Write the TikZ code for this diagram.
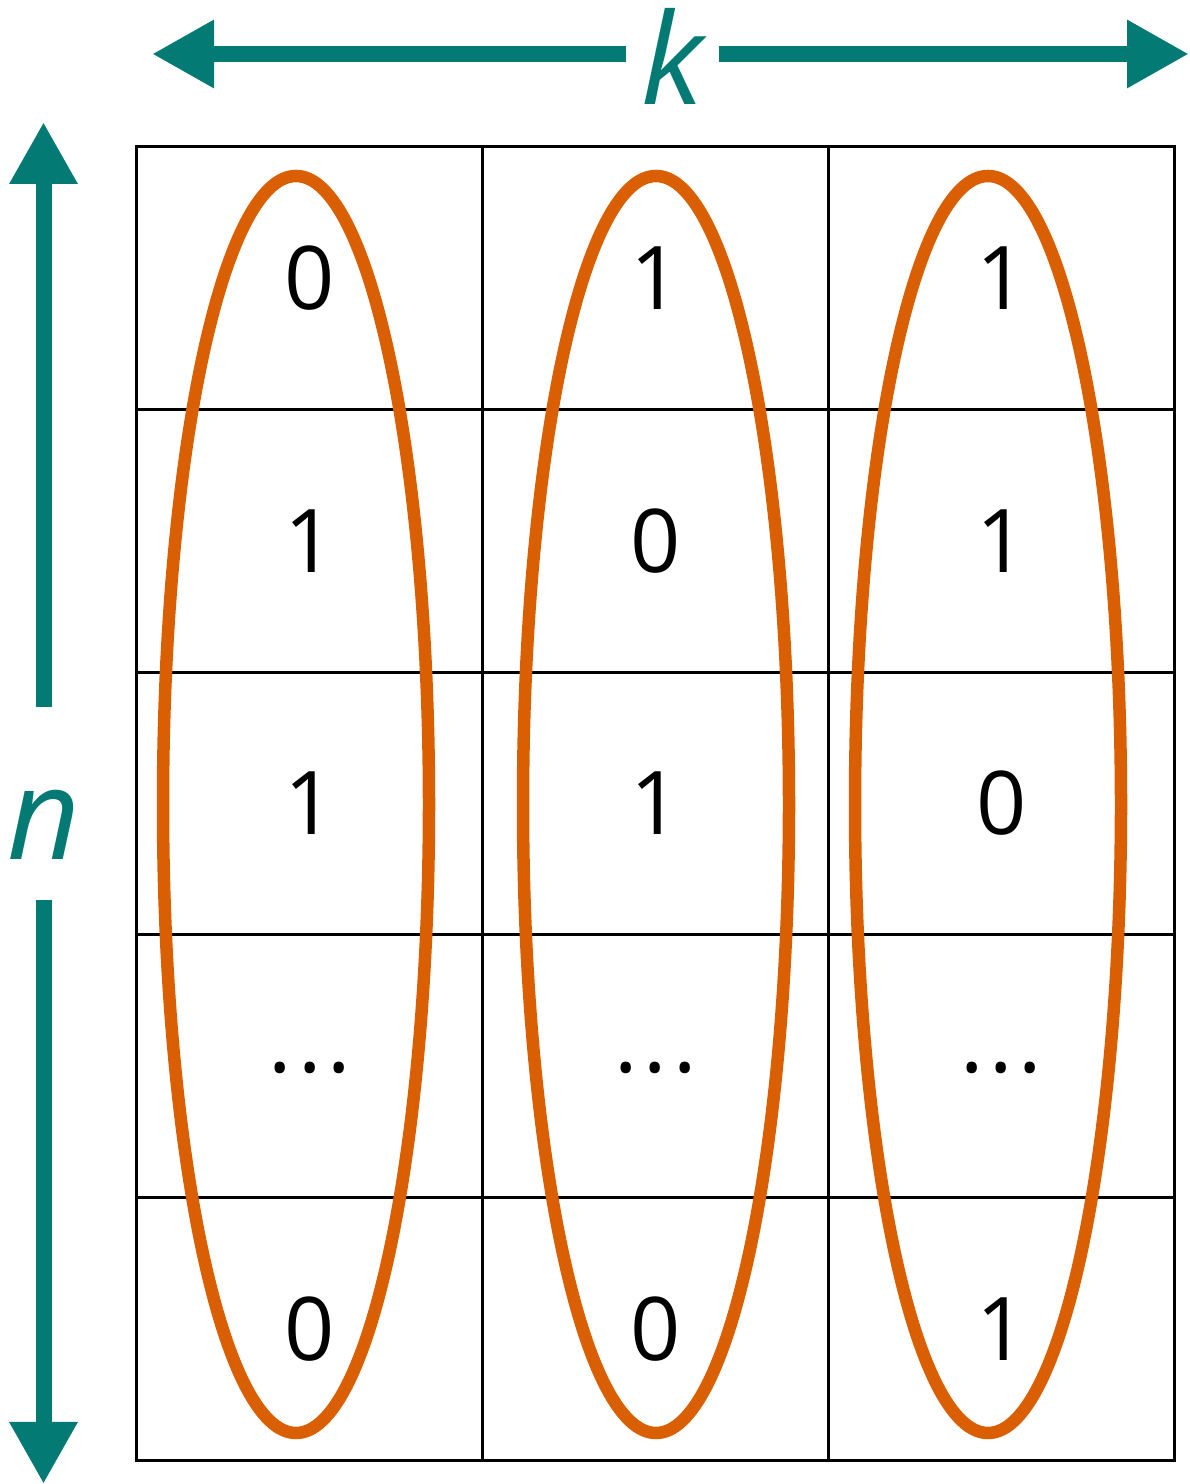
\documentclass[tikz,border=0pt]{standalone}
\usepackage{fontspec}
\setmainfont{Open Sans}
\usetikzlibrary{arrows.meta}
\definecolor{tealk}{HTML}{047A74}
\definecolor{orangec}{HTML}{D95F02}
\newcommand{\moredots}{\raisebox{-0.06cm}[0pt][0pt]{.\kern0.06cm.\kern0.06cm.}}

\begin{document}
\begin{tikzpicture}[>={Triangle[length=0.62cm,width=0.64cm]},
  cell/.style={draw,line width=0.03cm,minimum width=3.457cm,minimum height=2.626cm,
    outer sep=0pt,font=\fontsize{25}{30}\selectfont},
  colring/.style={draw=orangec,line width=0.125cm},
  spanline/.style={tealk,line width=0.16cm},
  spanlabel/.style={tealk,inner sep=0pt,font=\fontsize{36}{40}\selectfont\itshape}]
  \useasboundingbox (0,0) rectangle (11.89,14.84);
  % table of bits
  \foreach \va/\vb/\vc [count=\r] in {0/1/1,1/0/1,1/1/0,\moredots/\moredots/\moredots,0/0/1} {
    \node[cell] (c\r-1) at (3.098,14.683-\r*2.626) {\va};
    \node[cell] (c\r-2) at (6.555,14.683-\r*2.626) {\vb};
    \node[cell] (c\r-3) at (10.012,14.683-\r*2.626) {\vc};
  }
  % one ring per column
  \foreach \x in {2.96,6.56,9.88}
    \draw[colring] (\x,6.795) ellipse (1.33 and 6.285);
  % k across the top
  \node[spanlabel,minimum width=0.91cm,text height=1.06cm,text depth=0.04cm] (k) at (6.725,14.30) {k};
  \coordinate (kleft) at (1.52,14.30);
  \coordinate (kright) at (11.89,14.30);
  \draw[spanline,->] (k) -- (kleft);
  \draw[spanline,->] (k) -- (kright);
  % n down the side
  \node[spanlabel,text height=1.52cm,text depth=0.39cm] (n) at (0.435,6.805) {n};
  \coordinate (ntop) at (0.435,13.62);
  \coordinate (nbottom) at (0.435,0);
  \draw[spanline,->] (n) -- (ntop);
  \draw[spanline,->] (n) -- (nbottom);
\end{tikzpicture}
\end{document}
